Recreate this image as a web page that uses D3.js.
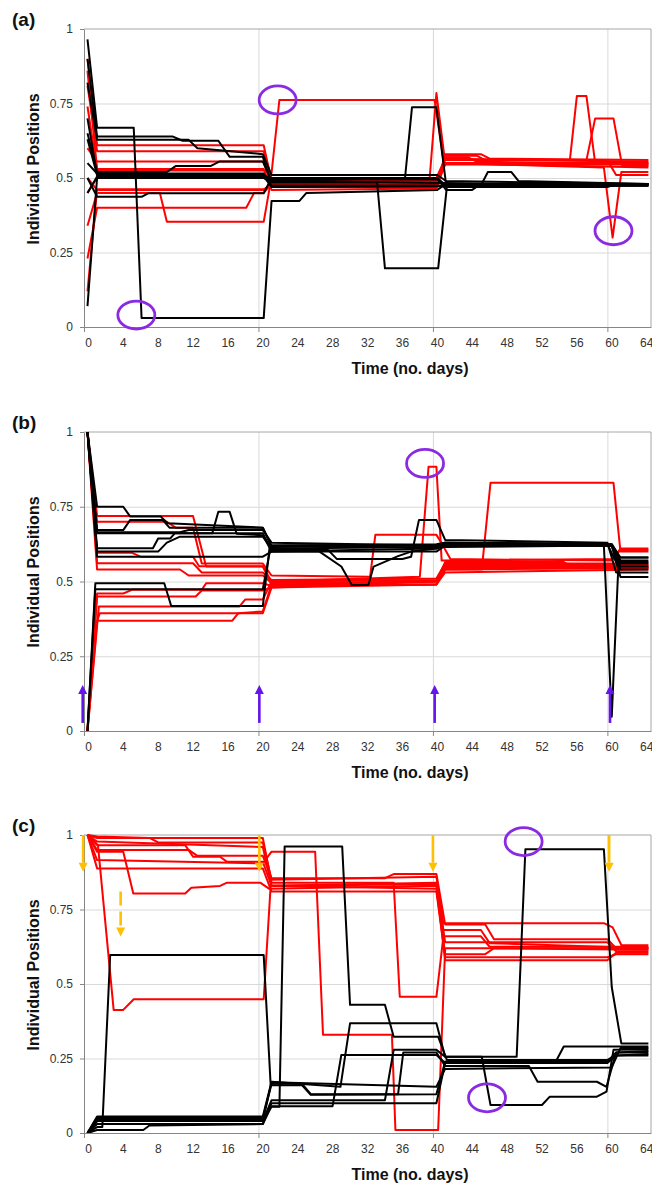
<!DOCTYPE html>
<html>
<head>
<meta charset="utf-8">
<script src="https://cdn.jsdelivr.net/npm/d3@7.9.0/dist/d3.min.js"></script>
<style>
  body { margin: 0; background: #fff; }
  svg text { font-family: "Liberation Sans", Arial, sans-serif; }
</style>
</head>
<body>
<svg id="chart" width="652" height="1183"></svg>
<script>
// axis values
const xTicks = d3.range(0, 65, 4);
const yTicks = [0, 0.25, 0.5, 0.75, 1];
const gridDays = [20, 40, 60];
const tickMarkDays = [0, 20, 40, 60];
const panelLabels = ['(a)', '(b)', '(c)'];
const xTitle = 'Time (no. days)';
const yTitle = 'Individual Positions';

// each series: [day, position] breakpoints
const redA = [
    [[0.4,0.90],[1.5,0.61],[20.6,0.61],[21.5,0.49],[39.6,0.49],[40.4,0.785],[41.3,0.575],[45,0.575],[46,0.56],[64.7,0.555]],
    [[0.4,0.81],[1.5,0.59],[20.6,0.59],[21.5,0.50],[40.4,0.50],[41.4,0.565],[55.7,0.56],[56.5,0.775],[57.6,0.775],[58.6,0.55],[64.7,0.55]],
    [[0.4,0.74],[1.5,0.525],[20.6,0.525],[21.5,0.516],[22.4,0.762],[40.2,0.762],[41.2,0.56],[57.6,0.56],[58.6,0.70],[60.7,0.70],[61.7,0.54],[64.7,0.54]],
    [[0.4,0.50],[1.5,0.46],[20.6,0.46],[21.5,0.48],[40.4,0.48],[41.4,0.55],[59.6,0.535],[60.6,0.30],[61.6,0.52],[64.7,0.52]],
    [[0.4,0.34],[1.5,0.45],[8.7,0.45],[9.5,0.353],[20.6,0.353],[21.3,0.47],[40.4,0.47],[41.4,0.545],[64.7,0.545]],
    [[0.4,0.23],[1.5,0.40],[18.6,0.40],[19.5,0.45],[20.6,0.45],[21.5,0.48],[40.4,0.485],[41.4,0.55],[64.7,0.535]],
    [[0.4,0.12],[1.5,0.462],[20.6,0.462],[21.5,0.475],[40.4,0.475],[41.4,0.57],[44,0.57],[45,0.555],[64.7,0.545]],
    [[0.4,0.45],[1.5,0.50],[20.6,0.50],[21.5,0.49],[40.4,0.49],[41.4,0.56],[60,0.56],[61,0.51],[64.7,0.51]],
    [[0.4,0.60],[1.5,0.555],[20.6,0.555],[21.5,0.47],[40.4,0.47],[41.4,0.55],[64.7,0.55]],
    [[0.4,0.86],[1.5,0.53],[20.6,0.53],[21.5,0.46],[40.4,0.465],[41.4,0.58],[45.5,0.58],[46.5,0.565],[64.7,0.56]]
];
const blackA = [
    [[0.4,0.965],[1.5,0.669],[5.7,0.669],[6.6,0.03],[20.6,0.03],[21.5,0.423],[24.7,0.423],[25.5,0.45],[40.5,0.46],[41.5,0.48],[64.7,0.48]],
    [[0.4,0.90],[1.5,0.639],[10.2,0.639],[11.3,0.625],[15.4,0.625],[16.7,0.571],[20.5,0.571],[21.3,0.50],[40.5,0.50],[41.5,0.475],[64.7,0.475]],
    [[0.4,0.82],[1.5,0.628],[12,0.628],[13,0.60],[20.5,0.58],[21.5,0.51],[40.5,0.51],[41.5,0.49],[64.7,0.48]],
    [[0.4,0.65],[1.5,0.52],[9.5,0.52],[10.5,0.54],[14.5,0.54],[15.5,0.555],[20.5,0.555],[21.5,0.49],[64.7,0.475]],
    [[0.4,0.07],[1.5,0.50],[20.6,0.50],[21.5,0.485],[33.6,0.485],[34.5,0.197],[40.6,0.197],[41.6,0.47],[64.7,0.475]],
    [[0.4,0.63],[1.5,0.51],[20.6,0.51],[21.5,0.49],[36.8,0.50],[37.6,0.737],[40.4,0.737],[41.5,0.48],[64.7,0.48]],
    [[0.4,0.55],[1.5,0.515],[20.6,0.515],[21.5,0.475],[45.5,0.475],[46.3,0.52],[49,0.52],[49.8,0.49],[64.7,0.48]],
    [[0.4,0.50],[1.5,0.437],[6.6,0.437],[7.4,0.449],[20.6,0.449],[21.5,0.50],[40.5,0.50],[41.5,0.46],[44.5,0.46],[45.5,0.48],[64.7,0.48]],
    [[0.4,0.45],[1.5,0.505],[20.6,0.505],[21.5,0.47],[64.7,0.475]],
    [[0.4,0.70],[1.5,0.51],[20.6,0.51],[21.5,0.495],[40.5,0.495],[41.5,0.47],[60,0.47],[61,0.48],[64.7,0.48]]
];

const redB = [
    [[0.4,1],[1.5,0.719],[12.5,0.719],[14,0.55],[20.5,0.55],[21.5,0.50],[38.5,0.516],[39.5,0.884],[40.4,0.884],[41,0.57],[60.5,0.575],[61.5,0.605],[64.7,0.605]],
    [[0.4,1],[1.5,0.70],[9.5,0.70],[10.5,0.68],[12.5,0.68],[13.5,0.56],[20.5,0.56],[21.5,0.52],[32.8,0.516],[33.4,0.656],[40.4,0.656],[41,0.628],[42,0.575],[60.5,0.57],[61.5,0.61],[64.7,0.61]],
    [[0.4,1],[1.5,0.596],[5.5,0.596],[6.5,0.583],[12.5,0.583],[13.2,0.551],[20.5,0.551],[21.5,0.49],[40.4,0.50],[41.4,0.54],[45.6,0.54],[46.6,0.83],[60.7,0.83],[61.5,0.60],[64.7,0.60]],
    [[0.4,0],[1.1,0.33],[1.8,0.394],[20.5,0.394],[21.5,0.48],[40.4,0.49],[41.4,0.55],[64.7,0.55]],
    [[0.4,0],[1.5,0.369],[17,0.369],[17.7,0.394],[20.5,0.40],[21.5,0.49],[40.4,0.49],[41.4,0.54],[64.7,0.545]],
    [[0.4,0],[1.7,0.416],[17.8,0.416],[18.5,0.44],[20.5,0.44],[21.5,0.50],[40.4,0.505],[41.4,0.555],[64.7,0.555]],
    [[0.4,0],[1.5,0.46],[4.5,0.46],[5.5,0.472],[13.5,0.472],[14,0.494],[20.5,0.494],[21.5,0.485],[40.4,0.49],[41.4,0.53],[64.7,0.54]],
    [[0.4,1],[1.5,0.561],[12.5,0.561],[13.5,0.53],[20.5,0.53],[21.5,0.505],[40.4,0.51],[41.4,0.56],[64.7,0.56]],
    [[0.4,1],[1.5,0.54],[11,0.54],[12,0.52],[20.5,0.52],[21.5,0.495],[40.4,0.50],[41.4,0.565],[55,0.565],[56,0.55],[64.7,0.55]],
    [[0.4,0],[1.5,0.45],[12.8,0.45],[13.5,0.47],[20.5,0.47],[21.5,0.48],[40.4,0.50],[41.4,0.545],[64.7,0.545]]
];
const blackB = [
    [[0.4,1],[1.5,0.75],[4.5,0.75],[5.3,0.717],[8.8,0.717],[9.6,0.695],[20.5,0.68],[21.5,0.615],[40.4,0.62],[41.4,0.625],[59.6,0.62],[60.5,0.048],[61.3,0.58],[64.7,0.58]],
    [[0.4,1],[1.5,0.672],[4.5,0.672],[5.3,0.706],[9,0.706],[9.8,0.68],[20.5,0.68],[21.5,0.62],[40.4,0.625],[41.4,0.63],[60.5,0.625],[61.5,0.57],[64.7,0.57]],
    [[0.4,1],[1.5,0.661],[14.7,0.661],[15.4,0.733],[16.7,0.733],[17.5,0.66],[20.5,0.655],[21.5,0.60],[40.4,0.61],[41.4,0.62],[60.5,0.62],[61.5,0.55],[64.7,0.55]],
    [[0.4,1],[1.5,0.611],[7.9,0.611],[8.5,0.644],[9.9,0.644],[10.4,0.661],[20.5,0.661],[21.5,0.605],[28,0.605],[29,0.575],[36.5,0.575],[37.5,0.583],[38.4,0.706],[40.4,0.706],[41.4,0.639],[60,0.63],[61,0.53],[64.7,0.53]],
    [[0.4,1],[1.5,0.583],[20.5,0.583],[21.5,0.60],[27,0.60],[29.5,0.55],[30.7,0.488],[32.6,0.488],[33.2,0.55],[36,0.585],[37.5,0.60],[40.4,0.61],[41.4,0.625],[60.5,0.62],[61.5,0.515],[64.7,0.515]],
    [[0.4,0],[1.3,0.494],[9.2,0.494],[10,0.418],[20.5,0.418],[21.3,0.62],[40.4,0.62],[41.4,0.63],[60,0.625],[61,0.565],[64.7,0.565]],
    [[0.4,0],[1.3,0.474],[20.5,0.474],[21.3,0.60],[40.4,0.60],[41.4,0.62],[60.5,0.62],[61.5,0.54],[64.7,0.54]],
    [[0.4,1],[1.5,0.60],[8.5,0.60],[9.5,0.63],[11,0.65],[20.5,0.65],[21.5,0.61],[40.4,0.615],[41.4,0.63],[60.5,0.625],[61.5,0.58],[64.7,0.58]],
    [[0.4,1],[1.5,0.665],[11,0.665],[12,0.672],[20.5,0.672],[21.5,0.63],[40.4,0.62],[41.4,0.615],[60.5,0.62],[61.5,0.56],[64.7,0.56]]
];

const redC = [
    [[0.4,1],[1.5,0.995],[7.5,0.99],[8.5,0.975],[20.5,0.975],[21.5,0.85],[40.4,0.86],[41.2,0.704],[59.6,0.704],[60.6,0.69],[61.6,0.631],[64.7,0.63]],
    [[0.4,1],[1.5,0.944],[4.5,0.944],[5.65,0.804],[11.6,0.804],[12.3,0.823],[15.6,0.829],[16.4,0.84],[20.2,0.84],[21.2,0.82],[40.4,0.83],[41.2,0.681],[45.5,0.681],[46.5,0.637],[64.7,0.62]],
    [[0.4,1],[1.5,0.966],[11.6,0.966],[12.5,0.927],[15.6,0.927],[16.4,0.91],[20.5,0.91],[21.5,0.83],[40.4,0.84],[41.4,0.64],[60,0.64],[61,0.61],[64.7,0.61]],
    [[0.4,1],[1.6,0.966],[3.4,0.413],[4.5,0.413],[5.7,0.449],[20.6,0.449],[21.4,0.83],[40.4,0.82],[41.4,0.60],[46,0.60],[47,0.62],[64.7,0.615]],
    [[0.4,1],[1.5,0.888],[20.5,0.888],[21.5,0.81],[40.4,0.81],[41.4,0.59],[60,0.59],[61,0.60],[64.7,0.60]],
    [[0.4,1],[1.5,0.916],[20.5,0.905],[21.5,0.944],[26.5,0.944],[27.4,0.33],[35.3,0.33],[35.7,0.01],[40.6,0.01],[41.4,0.62],[64.7,0.62]],
    [[0.4,1],[1.5,0.99],[20.5,0.99],[21.5,0.84],[35.5,0.84],[36.2,0.457],[40.4,0.457],[41.2,0.66],[45.5,0.66],[46.5,0.625],[64.7,0.625]],
    [[0.4,1],[1.5,0.978],[20.5,0.96],[21.5,0.83],[40.4,0.835],[41.4,0.58],[60,0.58],[61,0.605],[64.7,0.605]],
    [[0.4,1],[1.5,0.95],[12,0.95],[13,0.93],[20.5,0.93],[21.5,0.855],[34.5,0.855],[35.5,0.869],[40.4,0.869],[41.4,0.70],[46,0.70],[47,0.65],[60,0.65],[61,0.62],[64.7,0.62]]
];
const blackC = [
    [[0.4,0],[1.5,0.055],[20.5,0.055],[21.5,0.172],[29.4,0.155],[30.5,0.368],[40.4,0.368],[41.4,0.256],[45.6,0.256],[46.6,0.094],[52.5,0.094],[53.4,0.122],[58.8,0.122],[59.9,0.139],[60.7,0.279],[64.7,0.28]],
    [[0.4,0],[1.5,0.02],[2.1,0.02],[3,0.597],[20.6,0.597],[21.4,0.16],[25,0.16],[26,0.128],[40.4,0.13],[41.4,0.24],[60,0.24],[61,0.27],[64.7,0.27]],
    [[0.4,0],[1.5,0.045],[20.5,0.045],[21.5,0.088],[22.4,0.088],[23,0.961],[29.6,0.961],[30.5,0.43],[34.5,0.43],[35.5,0.323],[40.6,0.323],[41.6,0.245],[60,0.245],[61,0.26],[64.7,0.26]],
    [[0.4,0],[1.5,0.04],[20.5,0.04],[21.5,0.11],[34.5,0.11],[35.5,0.279],[40.4,0.279],[41.4,0.256],[49.6,0.256],[50.6,0.952],[59.6,0.952],[60.5,0.49],[61.6,0.30],[64.7,0.30]],
    [[0.4,0],[1.5,0.01],[6.8,0.01],[7.5,0.025],[20.5,0.03],[21.5,0.09],[28.5,0.09],[29.5,0.262],[40.4,0.262],[41.4,0.235],[54,0.235],[55,0.29],[61,0.29],[64.7,0.29]],
    [[0.4,0],[1.5,0.05],[20.5,0.05],[21.5,0.165],[25,0.165],[26,0.13],[36,0.13],[36.6,0.27],[40.4,0.27],[41.4,0.225],[51,0.225],[52,0.172],[58.8,0.172],[59.9,0.155],[61,0.27],[64.7,0.275]],
    [[0.4,0],[1.5,0.03],[20.5,0.03],[21.5,0.10],[40.4,0.10],[41.4,0.235],[60,0.235],[61,0.26],[64.7,0.265]],
    [[0.4,0],[1.5,0.04],[20.5,0.04],[21.5,0.17],[40.4,0.155],[41.4,0.215],[60.5,0.22],[61.5,0.285],[64.7,0.285]]
];

// annotations: [day, position]
const circlesA = [[22.2, 0.762], [6.0, 0.04], [60.7, 0.323]];
const circlesB = [[39.1, 0.895]];
const circlesC = [[50.4, 0.978], [46.2, 0.118]];
const upArrowDaysB = [-0.15, 20.1, 40.2, 60.3];
const upArrowSpanB = [0.027, 0.154];
const downArrowDaysC = [-0.1, 20.1, 40.0, 60.2];
const downArrowSpanC = [1.0, 0.877];
const dashedArrowC = { day: 4.2, from: 0.81, to: 0.659 };

const panels = [
    { top: 29, height: 298, red: redA, black: blackA, circles: circlesA },
    { top: 432, height: 299, red: redB, black: blackB, circles: circlesB },
    { top: 835, height: 298, red: redC, black: blackC, circles: circlesC }
];

const svg = d3.select('#chart');
const x = d3.scaleLinear().domain([0, 65]).range([84, 651]);
const plotWidth = x(65) - x(0);

const axisGrey = '#868686';
const gridGrey = '#d9d9d9';
const circleColor = '#8a2be2';
const purpleArrow = '#6414ec';
const yellowArrow = '#ffc000';

function drawArrow(g, px, yTail, yTip, color, dashed) {
    const dir = yTip < yTail ? -1 : 1; // -1 pointing up
    const head = 9;
    const half = 4.5;
    g.append('line')
        .attr('x1', px).attr('x2', px)
        .attr('y1', yTail).attr('y2', yTip - dir * head)
        .attr('stroke', color)
        .attr('stroke-width', 2.6)
        .attr('stroke-dasharray', dashed ? '14,6' : null);
    g.append('path')
        .attr('d', `M${px},${yTip}L${px - half},${yTip - dir * head}L${px + half},${yTip - dir * head}Z`)
        .attr('fill', color);
}

panels.forEach((p, i) => {
    const bottom = p.top + p.height;
    const y = d3.scaleLinear().domain([0, 1]).range([bottom, p.top]);
    const g = svg.append('g');

    // gridlines
    g.append('g')
        .attr('transform', `translate(${x(0)},0)`)
        .call(d3.axisLeft(y).tickValues([0.25, 0.5, 0.75]).tickSize(-plotWidth).tickFormat(''))
        .call(s => s.select('.domain').remove())
        .selectAll('line').attr('stroke', gridGrey);

    g.append('g')
        .attr('transform', `translate(0,${p.top})`)
        .call(d3.axisBottom(x).tickValues(gridDays).tickSize(p.height).tickFormat(''))
        .call(s => s.select('.domain').remove())
        .selectAll('line').attr('stroke', gridGrey);

    // plot frame, top and right
    g.append('path')
        .attr('fill', 'none')
        .attr('stroke', '#a6a6a6')
        .attr('d', `M${x(0)},${y(1)}H${x(65)}V${y(0)}`);

    // series
    const line = d3.line().x(d => x(d[0])).y(d => y(d[1]));

    g.append('g')
        .selectAll('path')
        .data(p.red)
        .join('path')
        .attr('d', line)
        .attr('fill', 'none')
        .attr('stroke', '#ff0000')
        .attr('stroke-width', 2)
        .attr('stroke-linejoin', 'round');

    g.append('g')
        .selectAll('path')
        .data(p.black)
        .join('path')
        .attr('d', line)
        .attr('fill', 'none')
        .attr('stroke', '#000')
        .attr('stroke-width', 2)
        .attr('stroke-linejoin', 'round');

    // y axis
    const yAxis = g.append('g')
        .attr('transform', `translate(${x(0)},0)`)
        .call(d3.axisLeft(y)
            .tickValues(yTicks)
            .tickSize(4)
            .tickSizeOuter(0)
            .tickPadding(7)
            .tickFormat(d => String(d)));
    yAxis.selectAll('path, line').attr('stroke', axisGrey);
    yAxis.selectAll('text')
        .attr('font-family', '"Liberation Sans", Arial, sans-serif')
        .attr('font-size', 12)
        .attr('fill', '#333');

    // x axis: tick marks only at 0/20/40/60, labels every 4
    const xMarks = g.append('g')
        .attr('transform', `translate(0,${bottom})`)
        .call(d3.axisBottom(x).tickValues(tickMarkDays).tickSize(5).tickSizeOuter(0).tickFormat(''));
    xMarks.selectAll('path, line').attr('stroke', axisGrey);

    const xAxis = g.append('g')
        .attr('transform', `translate(0,${bottom})`)
        .call(d3.axisBottom(x).tickValues(xTicks).tickSize(0).tickPadding(11));
    xAxis.select('.domain').remove();
    xAxis.selectAll('text')
        .attr('dx', 4)
        .attr('font-family', '"Liberation Sans", Arial, sans-serif')
        .attr('font-size', 12)
        .attr('fill', '#333');

    // titles
    g.append('text')
        .attr('x', 410)
        .attr('y', bottom + 47)
        .attr('text-anchor', 'middle')
        .attr('font-size', 16)
        .attr('font-weight', 'bold')
        .attr('fill', '#111')
        .text(xTitle);

    g.append('text')
        .attr('transform', `translate(38.5,${p.top + 140}) rotate(-90)`)
        .attr('text-anchor', 'middle')
        .attr('font-size', 16)
        .attr('font-weight', 'bold')
        .attr('fill', '#111')
        .text(yTitle);

    g.append('text')
        .attr('x', 12)
        .attr('y', p.top - 3)
        .attr('font-size', 19)
        .attr('font-weight', 'bold')
        .attr('fill', '#111')
        .text(panelLabels[i]);

    // highlight circles
    g.append('g')
        .selectAll('ellipse')
        .data(p.circles)
        .join('ellipse')
        .attr('cx', d => x(d[0]))
        .attr('cy', d => y(d[1]))
        .attr('rx', 18.5)
        .attr('ry', 14)
        .attr('fill', 'none')
        .attr('stroke', circleColor)
        .attr('stroke-width', 2.8);

    if (i === 1) {
        const ag = g.append('g');
        upArrowDaysB.forEach(day => {
            drawArrow(ag, x(day), y(upArrowSpanB[0]), y(upArrowSpanB[1]), purpleArrow, false);
        });
    }
    if (i === 2) {
        const ag = g.append('g');
        downArrowDaysC.forEach(day => {
            drawArrow(ag, x(day), y(downArrowSpanC[0]), y(downArrowSpanC[1]), yellowArrow, false);
        });
        drawArrow(ag, x(dashedArrowC.day), y(dashedArrowC.from), y(dashedArrowC.to), yellowArrow, true);
    }
});
</script>
</body>
</html>
